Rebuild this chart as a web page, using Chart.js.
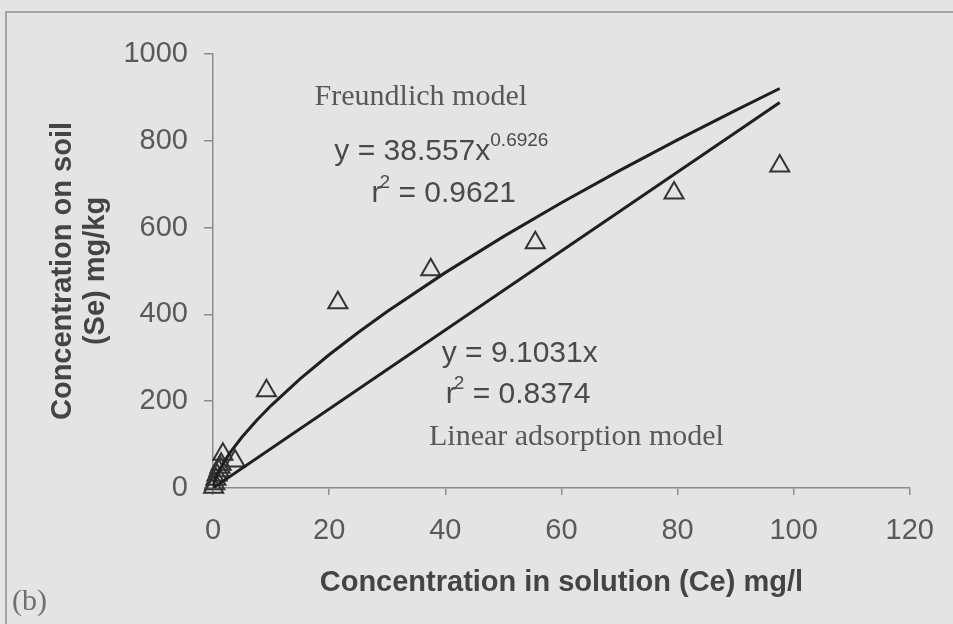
<!DOCTYPE html>
<html>
<head>
<meta charset="utf-8">
<script src="https://cdn.jsdelivr.net/npm/chart.js@4/dist/chart.umd.min.js"></script>
<style>
  html, body { margin: 0; padding: 0; background: #e4e4e4; }
  #wrap { position: relative; width: 953px; height: 624px; overflow: hidden; }
  #frame { position: absolute; left: 5px; top: 11px; width: 1000px; height: 700px;
           border-left: 2px solid #a3a3a3; border-top: 2px solid #a3a3a3; }
  canvas { position: absolute; left: 0; top: 0; }
</style>
</head>
<body>
<div id="wrap">
  <div id="frame"></div>
  <canvas id="chart" width="953" height="624"></canvas>
</div>
<script>
// Batch isotherm measurements: equilibrium concentration in solution (Ce, mg/l)
// and amount sorbed on soil (Se, mg/kg)
const ceValues = [0.1, 0.3, 0.5, 0.7, 1.0, 1.2, 1.4, 1.7, 3.8, 9.2, 21.5, 37.5, 55.5, 79.4, 97.6];
const seValues = [2, 10, 20, 30, 40, 48, 55, 78, 62, 224, 427, 503, 565, 680, 742];

// Fitted models
const freundlichK = 38.557;
const freundlichN = 0.6926;
const linearKd = 9.1031;

// Ce values at which the fitted curves are traced
const curveCe = [0, 0.1, 0.25, 0.5, 1, 2, 3, 5, 7.5, 10, 15, 20, 25, 30, 40, 50, 60, 70, 80, 90, 97.6];
const lineCe = [0, 97.6];

// Axis ticks
const xTickValues = [0, 20, 40, 60, 80, 100, 120];
const yTickValues = [0, 200, 400, 600, 800, 1000];

// Text placed inside the plot (data coordinates: left edge, baseline)
const notes = [
  { x: 17.5, y: 882, serif: true, parts: [{ t: 'Freundlich model' }] },
  { x: 20.9, y: 756, parts: [{ t: 'y = 38.557x' }, { t: '0.6926', sup: true }] },
  { x: 27.3, y: 659, parts: [{ t: 'r' }, { t: '2', sup: true, kern: -2 }, { t: ' = 0.9621' }] },
  { x: 39.4, y: 290, parts: [{ t: 'y = 9.1031x' }] },
  { x: 40.1, y: 196, parts: [{ t: 'r' }, { t: '2', sup: true, kern: -2 }, { t: ' = 0.8374' }] },
  { x: 37.2, y: 99, serif: true, parts: [{ t: 'Linear adsorption model' }] }
];

const SANS = '"Liberation Sans", Arial, sans-serif';
const SERIF = '"Liberation Serif", "Times New Roman", serif';
const AXIS = '#8c8c8c';

const noteLabels = {
  id: 'noteLabels',
  afterDraw(chart) {
    const { ctx, scales } = chart;
    ctx.save();
    ctx.textBaseline = 'alphabetic';
    ctx.textAlign = 'left';
    notes.forEach(n => {
      let px = scales.x.getPixelForValue(n.x);
      const py = scales.y.getPixelForValue(n.y);
      n.parts.forEach(p => {
        const size = p.sup ? 19 : 30;
        ctx.font = size + 'px ' + (n.serif ? SERIF : SANS);
        ctx.fillStyle = n.serif ? '#585858' : '#4a4a4a';
        px += p.kern || 0;
        ctx.fillText(p.t, px, p.sup ? py - 14 : py);
        px += ctx.measureText(p.t).width;
      });
    });
    // panel tag
    ctx.font = '30px ' + SERIF;
    ctx.fillStyle = '#707070';
    ctx.fillText('(b)', 12, 610);
    ctx.restore();
  }
};

new Chart(document.getElementById('chart'), {
  type: 'scatter',
  data: {
    datasets: [
      {
        label: 'Freundlich model',
        data: curveCe.map(x => ({ x, y: freundlichK * Math.pow(x, freundlichN) })),
        showLine: true,
        borderColor: '#1f1f1f',
        borderWidth: 3,
        pointRadius: 0,
        tension: 0,
        order: 0
      },
      {
        label: 'Linear adsorption model',
        data: lineCe.map(x => ({ x, y: linearKd * x })),
        showLine: true,
        borderColor: '#1f1f1f',
        borderWidth: 3,
        pointRadius: 0,
        order: 0
      },
      {
        label: 'Measured',
        data: ceValues.map((x, i) => ({ x, y: seValues[i] })),
        pointStyle: 'triangle',
        pointRadius: 11,
        pointBorderWidth: 2,
        pointBorderColor: '#333333',
        pointBackgroundColor: 'rgba(0,0,0,0)',
        showLine: false,
        clip: false,
        order: 1
      }
    ]
  },
  options: {
    responsive: false,
    animation: false,
    layout: { padding: { left: 0, right: 40, top: 54, bottom: 0 } },
    plugins: { legend: { display: false }, tooltip: { enabled: false } },
    scales: {
      x: {
        type: 'linear',
        min: 0, max: 120,
        afterBuildTicks(s) { s.ticks = xTickValues.map(v => ({ value: v })); },
        afterFit(s) { s.height = 136; },
        grid: { drawOnChartArea: false, tickLength: 7, color: AXIS, tickColor: AXIS, lineWidth: 1.5 },
        border: { color: AXIS, width: 1.5 },
        ticks: { font: { family: SANS, size: 29 }, color: '#5a5a5a', padding: 19, maxRotation: 0,
                 callback: v => String(v) },
        title: {
          display: true,
          text: 'Concentration in solution (Ce) mg/l',
          font: { family: SANS, size: 29, weight: 'bold' },
          color: '#444444',
          padding: { top: 0, bottom: 24 }
        }
      },
      y: {
        type: 'linear',
        min: 0, max: 1000,
        afterBuildTicks(s) { s.ticks = yTickValues.map(v => ({ value: v })); },
        afterFit(s) { s.width = 213; },
        grid: { drawOnChartArea: false, tickLength: 9, color: AXIS, tickColor: AXIS, lineWidth: 1.5 },
        border: { color: AXIS, width: 1.5 },
        ticks: { font: { family: SANS, size: 29 }, color: '#5a5a5a', padding: 16,
                 callback: v => String(v) },
        title: {
          display: true,
          text: ['Concentration on soil', '(Se) mg/kg'],
          font: { family: SANS, size: 29, weight: 'bold', lineHeight: 1.15 },
          color: '#444444',
          padding: { top: 46, bottom: 0 }
        }
      }
    }
  },
  plugins: [noteLabels]
});
</script>
</body>
</html>
